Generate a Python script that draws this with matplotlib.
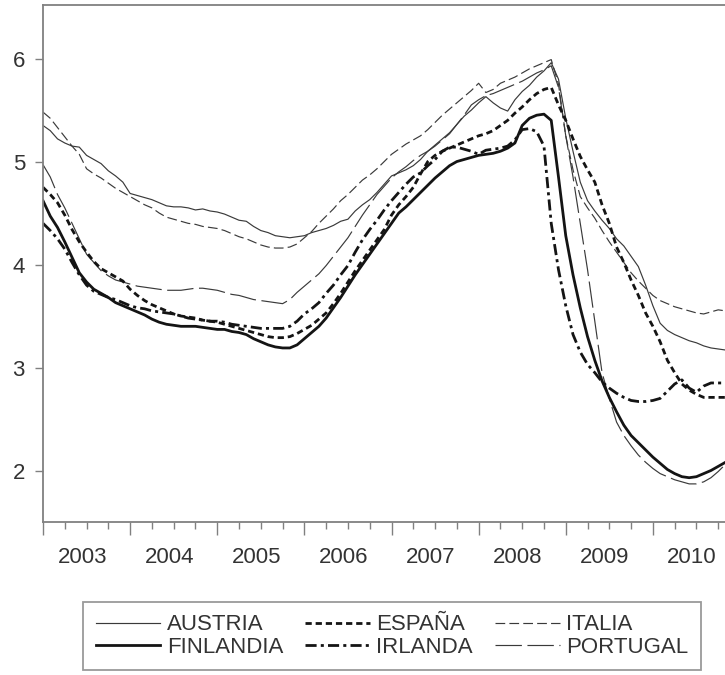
"""Monthly rates 2003-2010, six euro countries (grayscale replica)."""
import matplotlib
matplotlib.use("Agg")
import matplotlib.pyplot as plt
import numpy as np
from matplotlib.ticker import MultipleLocator, FixedLocator

plt.rcParams["font.family"] = ["Liberation Sans", "DejaVu Sans"]
plt.rcParams["lines.scale_dashes"] = False

# monthly values, Jan 2003 .. Nov 2010
austria = [
    5.35, 5.30, 5.22, 5.18, 5.15, 5.14, 5.06, 5.02, 4.98, 4.91, 4.86, 4.80,
    4.69, 4.67, 4.65, 4.63, 4.60, 4.57, 4.56, 4.56, 4.55, 4.53, 4.54, 4.52,
    4.51, 4.49, 4.46, 4.43, 4.42, 4.37, 4.33, 4.31, 4.28, 4.27, 4.26, 4.27,
    4.28, 4.31, 4.33, 4.35, 4.38, 4.42, 4.44, 4.52, 4.58, 4.63, 4.70, 4.78,
    4.86, 4.89, 4.92, 4.96, 5.02, 5.10, 5.16, 5.22, 5.28, 5.36, 5.44, 5.50,
    5.57, 5.63, 5.57, 5.52, 5.49, 5.60, 5.68, 5.74, 5.82, 5.88, 5.96, 5.80,
    5.42, 5.10, 4.80, 4.62, 4.52, 4.43, 4.35, 4.25, 4.18, 4.08, 3.98, 3.80,
    3.60, 3.43, 3.36, 3.32, 3.29, 3.26, 3.24, 3.21, 3.19, 3.18, 3.17,
]
espana = [
    4.75, 4.68, 4.60, 4.48, 4.34, 4.22, 4.12, 4.03, 3.96, 3.92, 3.88, 3.84,
    3.76, 3.70, 3.65, 3.61, 3.58, 3.55, 3.52, 3.50, 3.49, 3.48, 3.46, 3.45,
    3.44, 3.42, 3.40, 3.38, 3.36, 3.34, 3.32, 3.30, 3.29, 3.29, 3.30, 3.33,
    3.37, 3.41, 3.47, 3.53, 3.62, 3.72, 3.83, 3.94, 4.04, 4.14, 4.24, 4.34,
    4.48, 4.58, 4.66, 4.75, 4.88, 5.00, 5.06, 5.10, 5.13, 5.16, 5.19, 5.22,
    5.25, 5.27, 5.30, 5.35, 5.40, 5.47, 5.53, 5.60, 5.66, 5.70, 5.72, 5.55,
    5.40, 5.22, 5.05, 4.92, 4.80, 4.58, 4.40, 4.17, 4.02, 3.85, 3.70, 3.53,
    3.40, 3.25, 3.07, 2.95, 2.84, 2.78, 2.74, 2.71, 2.71, 2.71, 2.71,
]
italia = [
    5.48, 5.42, 5.33, 5.24, 5.15, 5.07, 4.93, 4.88, 4.84, 4.79, 4.74, 4.70,
    4.66, 4.62, 4.58, 4.55, 4.50, 4.46, 4.44, 4.42, 4.40, 4.39, 4.37, 4.36,
    4.35, 4.33, 4.30, 4.27, 4.25, 4.22, 4.19, 4.17, 4.16, 4.16, 4.17, 4.20,
    4.26, 4.32, 4.40, 4.47, 4.54, 4.62, 4.68, 4.75, 4.82, 4.87, 4.93, 5.00,
    5.07, 5.12, 5.17, 5.21, 5.25, 5.31, 5.38, 5.45, 5.51, 5.57, 5.63, 5.69,
    5.76, 5.67, 5.70, 5.76, 5.79, 5.82, 5.86, 5.90, 5.93, 5.96, 5.99, 5.75,
    5.25, 4.92, 4.66, 4.55, 4.45, 4.33, 4.22, 4.12, 4.02, 3.92, 3.84, 3.77,
    3.70, 3.65, 3.62, 3.59, 3.57, 3.55, 3.53, 3.52, 3.54, 3.56, 3.55,
]
finlandia = [
    4.62, 4.47, 4.36, 4.22, 4.07, 3.92, 3.83, 3.76, 3.72, 3.68, 3.63, 3.60,
    3.57, 3.54, 3.51, 3.47, 3.44, 3.42, 3.41, 3.40, 3.40, 3.40, 3.39, 3.38,
    3.37, 3.37, 3.35, 3.34, 3.32, 3.28, 3.25, 3.22, 3.20, 3.19, 3.19, 3.22,
    3.28, 3.34, 3.40, 3.48, 3.58, 3.68, 3.79, 3.90, 4.00, 4.10, 4.20, 4.30,
    4.40, 4.50, 4.56, 4.63, 4.70, 4.77, 4.84, 4.90, 4.96, 5.00, 5.02, 5.04,
    5.06, 5.07, 5.08, 5.10, 5.13, 5.18, 5.35, 5.42, 5.45, 5.46, 5.40, 4.85,
    4.28, 3.90, 3.58, 3.30, 3.07, 2.87, 2.71, 2.57, 2.44, 2.34, 2.27, 2.20,
    2.13, 2.07, 2.01, 1.97, 1.94, 1.93, 1.94, 1.97, 2.00, 2.04, 2.08,
]
irlanda = [
    4.40, 4.33, 4.25, 4.15, 4.02, 3.90, 3.80, 3.74, 3.71, 3.68, 3.66, 3.63,
    3.60, 3.58, 3.57, 3.55, 3.54, 3.53, 3.52, 3.50, 3.48, 3.47, 3.46, 3.45,
    3.45, 3.44, 3.42, 3.41, 3.40, 3.39, 3.38, 3.38, 3.38, 3.38, 3.40, 3.45,
    3.52, 3.57, 3.63, 3.72, 3.80, 3.90, 3.99, 4.12, 4.24, 4.34, 4.43, 4.53,
    4.62, 4.70, 4.78, 4.85, 4.89, 4.96, 5.02, 5.10, 5.14, 5.14, 5.12, 5.10,
    5.07, 5.11, 5.12, 5.13, 5.15, 5.21, 5.31, 5.32, 5.29, 5.15, 4.40, 3.95,
    3.60, 3.32, 3.15, 3.03, 2.95, 2.86, 2.80, 2.75, 2.71, 2.68, 2.67, 2.67,
    2.68, 2.70, 2.77, 2.84, 2.88, 2.80, 2.76, 2.82, 2.85, 2.85, 2.85,
]
portugal = [
    4.97, 4.85, 4.68, 4.55, 4.40, 4.25, 4.10, 4.02, 3.94, 3.89, 3.85, 3.83,
    3.81, 3.79, 3.78, 3.77, 3.76, 3.75, 3.75, 3.75, 3.76, 3.77, 3.77, 3.76,
    3.75, 3.73, 3.71, 3.70, 3.68, 3.66, 3.65, 3.64, 3.63, 3.62, 3.66, 3.73,
    3.79, 3.85, 3.91, 3.99, 4.08, 4.17, 4.26, 4.37, 4.48, 4.58, 4.68, 4.76,
    4.84, 4.90, 4.95, 5.01, 5.06, 5.10, 5.15, 5.21, 5.27, 5.36, 5.45, 5.55,
    5.60, 5.64, 5.66, 5.69, 5.72, 5.75, 5.78, 5.82, 5.86, 5.89, 5.93, 5.72,
    5.25, 4.85, 4.40, 3.95, 3.45, 2.95, 2.70, 2.47, 2.34, 2.24, 2.15, 2.08,
    2.02, 1.97, 1.94, 1.91, 1.89, 1.87, 1.87, 1.89, 1.93, 1.99, 2.06,
]
years = list(range(2003, 2011))

t = 2003 + np.arange(len(austria)) / 12.0

fig = plt.figure(figsize=(7.25, 6.75), dpi=100)
ax = fig.add_axes([43 / 725, 153 / 675, 697 / 725, 517 / 675])

thin = "#3a3a3a"
thick = "#141414"
l_aus, = ax.plot(t, austria, color=thin, lw=0.85, label="AUSTRIA")
l_ita, = ax.plot(t, italia, color=thin, lw=0.85, dashes=(7, 3), label="ITALIA")
l_por, = ax.plot(t, portugal, color=thin, lw=0.85, dashes=(19, 4), label="PORTUGAL")
l_esp, = ax.plot(t, espana, color=thick, lw=2.0, dashes=(4.5, 2.8), label="ESPAÑA")
l_irl, = ax.plot(t, irlanda, color=thick, lw=2.0, dashes=(8, 3, 2.2, 3), label="IRLANDA")
l_fin, = ax.plot(t, finlandia, color=thick, lw=2.0, label="FINLANDIA")

ax.set_xlim(2003, 2011)
ax.set_ylim(1.5, 6.52)

spine_c = "#808080"
for side in ["left", "bottom", "top"]:
    ax.spines[side].set_color(spine_c)
    ax.spines[side].set_linewidth(1.3)
ax.spines["right"].set_visible(False)

ax.set_yticks([2, 3, 4, 5, 6])
ax.tick_params(axis="y", direction="out", length=6, width=1.0, color=spine_c,
               pad=7, labelsize=16, labelcolor="#333333")
ax.xaxis.set_major_locator(FixedLocator(years + [2011]))
ax.xaxis.set_minor_locator(MultipleLocator(0.25))
ax.tick_params(axis="x", which="major", direction="out", length=9, width=1.0,
               color=spine_c, labelbottom=False)
ax.tick_params(axis="x", which="minor", direction="out", length=5, width=1.0,
               color=spine_c)

# year labels centred inside each year
sec = ax.secondary_xaxis("bottom")
sec.set_xticks([y + 0.45 for y in years])
sec.set_xticklabels([str(y) for y in years])
sec.tick_params(length=0, pad=18, labelsize=16, labelcolor="#333333")
sec.spines["bottom"].set_visible(False)

handles = [l_aus, l_fin, l_esp, l_irl, l_ita, l_por]
leg = fig.legend(handles=handles, loc="center", ncol=3,
                 bbox_to_anchor=(392 / 725, 1 - 636 / 675), fontsize=16,
                 frameon=True, fancybox=False, edgecolor="#808080",
                 handlelength=2.9, handletextpad=0.3, columnspacing=1.0,
                 labelspacing=0.05, borderpad=0.55, borderaxespad=0)
leg.get_frame().set_linewidth(1.3)
for txt in leg.get_texts():
    txt.set_color("#333333")

fig.savefig("out.png", dpi=100)
